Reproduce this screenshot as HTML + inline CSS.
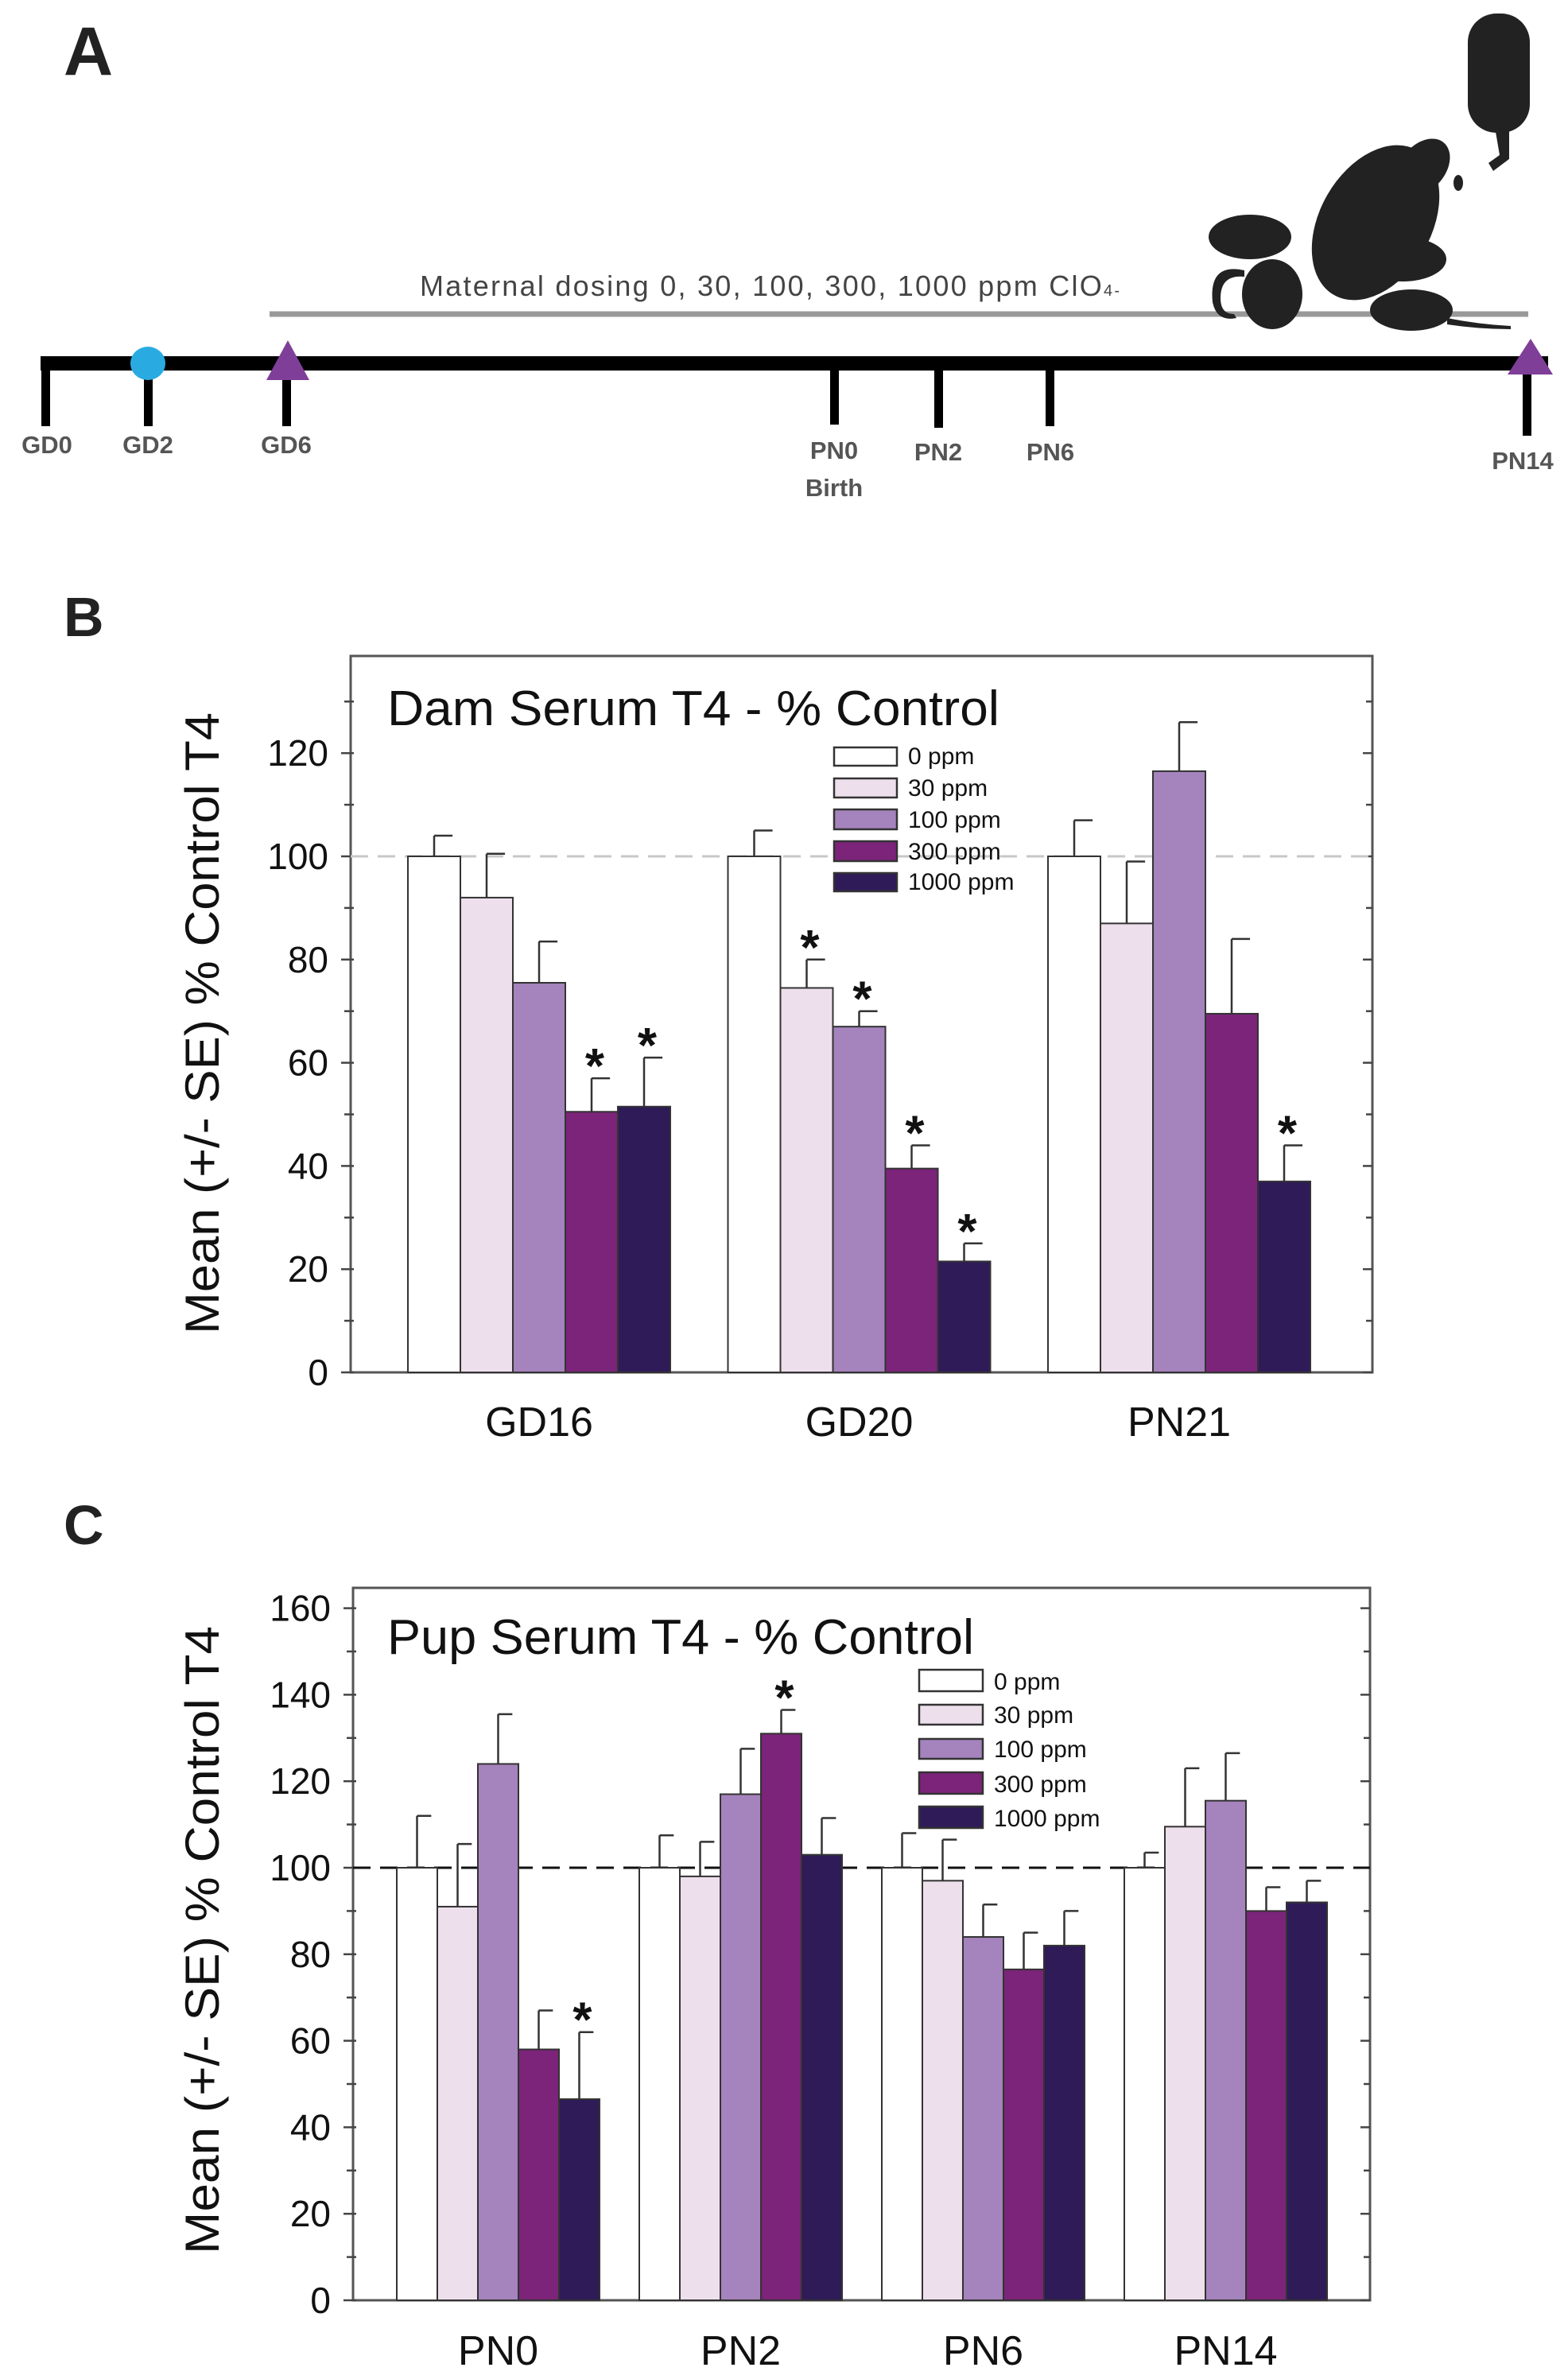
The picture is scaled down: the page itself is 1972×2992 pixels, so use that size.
<!DOCTYPE html>
<html><head><meta charset="utf-8"><style>
html,body{margin:0;padding:0;background:#fff;}
svg{display:block;}
text{font-family:"Liberation Sans",Arial,sans-serif;}
</style></head><body>
<svg id="s" width="1972" height="2992" viewBox="0 0 1972 2992" xmlns="http://www.w3.org/2000/svg">
<rect width="1972" height="2992" fill="#fff"/>
<text x="80" y="94" font-size="86" font-weight="bold" fill="#222">A</text>
<line x1="339" y1="395" x2="1922" y2="395" stroke="#999" stroke-width="7"/>
<text x="528" y="372" font-size="36" fill="#444" textLength="880">Maternal dosing 0, 30, 100, 300, 1000 ppm ClO<tspan font-size="20">4-</tspan></text>
<g fill="#222">
<rect x="1846" y="17" width="78" height="150" rx="36"/>
<path d="M1880 160 L1898 160 L1898 200 L1878 215 L1872 205 L1886 195 Z"/>
<ellipse cx="1834" cy="230" rx="6" ry="10"/>
<ellipse cx="1730" cy="280" rx="70" ry="105" transform="rotate(30 1730 280)"/>
<ellipse cx="1790" cy="210" rx="28" ry="40" transform="rotate(40 1790 210)"/>
<ellipse cx="1572" cy="298" rx="52" ry="28"/>
<ellipse cx="1764" cy="326" rx="55" ry="28"/>
<ellipse cx="1600" cy="370" rx="38" ry="44"/>
<ellipse cx="1775" cy="390" rx="52" ry="26"/>
<path d="M1820 400 Q1860 408 1900 410 L1900 414 Q1860 414 1820 408 Z"/>
<path d="M1565 340 Q1520 330 1525 380 Q1530 405 1555 400 L1552 395 Q1535 395 1535 375 Q1535 345 1565 348 Z"/>
</g>
<rect x="51" y="448" width="1896" height="18" fill="#000"/>
<g fill="#000">
<rect x="52" y="448" width="11" height="88"/>
<rect x="181" y="448" width="11" height="88"/>
<rect x="355" y="448" width="11" height="88"/>
<rect x="1044" y="448" width="11" height="86"/>
<rect x="1175" y="448" width="11" height="90"/>
<rect x="1315" y="448" width="11" height="88"/>
<rect x="1915" y="448" width="11" height="100"/>
</g>
<ellipse cx="186" cy="457" rx="22" ry="21" fill="#29abe2"/>
<polygon points="362,428 335,478 389,478" fill="#7f3f98"/>
<polygon points="1925,426 1896,471 1953,471" fill="#7f3f98"/>
<g font-size="31" font-weight="bold" fill="#555" text-anchor="middle">
<text x="59" y="570">GD0</text>
<text x="186" y="570">GD2</text>
<text x="360" y="570">GD6</text>
<text x="1049" y="577">PN0</text>
<text x="1049" y="624">Birth</text>
<text x="1180" y="579">PN2</text>
<text x="1321" y="579">PN6</text>
<text x="1915" y="590">PN14</text>
</g>
<text x="80" y="800" font-size="70" font-weight="bold" fill="#222">B</text>
<text x="80" y="1942" font-size="70" font-weight="bold" fill="#222">C</text>
<g id="B"></g>
<g id="C"></g>
</svg>
<script>
var NS="http://www.w3.org/2000/svg";
function el(p,tag,a,txt){var e=document.createElementNS(NS,tag);for(var k in a)e.setAttribute(k,a[k]);if(txt!==undefined)e.textContent=txt;p.appendChild(e);return e;}
var cols=["#ffffff","#ede0ec","#a583bd","#7b2479","#2f1b57"];
var names=["0 ppm","30 ppm","100 ppm","300 ppm","1000 ppm"];
function panel(g,o){
 var y=function(v){return o.y0-v*o.u;};
 el(g,"rect",{x:o.L,y:o.T,width:o.R-o.L,height:o.y0-o.T,fill:"none",stroke:"#555","stroke-width":3});
 for(var v=0;v<=o.max;v+=10){var yy=y(v);var maj=v%20==0;var l=maj?12:8;
  el(g,"line",{x1:o.L-l,y1:yy,x2:o.L+4,y2:yy,stroke:"#444","stroke-width":2.5});
  el(g,"line",{x1:o.R-l,y1:yy,x2:o.R,y2:yy,stroke:"#444","stroke-width":2.5});
  if(maj) el(g,"text",{x:o.L-28,y:yy+16,"font-size":46,"text-anchor":"end",fill:"#111"},String(v));}
 el(g,"line",{x1:o.L,y1:y(100),x2:o.R,y2:y(100),stroke:o.dash,"stroke-width":3,"stroke-dasharray":"22 12"});
 o.groups.forEach(function(gr,i){
  var x0=o.g0+i*o.gs;
  gr.forEach(function(d,j){var x=x0+j*o.bw;
   el(g,"rect",{x:x,y:y(d[0]),width:o.bw,height:d[0]*o.u,fill:cols[j],stroke:"#333","stroke-width":2});
   var cx=x+o.bw/2;
   el(g,"line",{x1:cx,y1:y(d[0]),x2:cx,y2:y(d[1]),stroke:"#333","stroke-width":2.5});
   el(g,"line",{x1:cx,y1:y(d[1]),x2:cx+o.bw*0.35,y2:y(d[1]),stroke:"#333","stroke-width":2.5});
   if(d[2]) el(g,"text",{x:cx+4,y:y(d[1])+6,"font-size":62,"font-weight":"bold","text-anchor":"middle",fill:"#111"},"*");
  });
  el(g,"text",{x:x0+o.bw*2.5,y:o.xl,"font-size":52,"text-anchor":"middle",fill:"#111"},o.labels[i]);
 });
 o.leg.forEach(function(r,j){
  el(g,"rect",{x:o.lx,y:r[0],width:o.lw,height:r[1]-r[0],fill:cols[j],stroke:"#333","stroke-width":2.5});
  el(g,"text",{x:o.lx+o.lw+14,y:r[1]-2,"font-size":30,fill:"#111"},names[j]);
 });
 el(g,"text",{x:487,y:o.ty,"font-size":62,fill:"#111",textLength:o.tw,lengthAdjust:"spacingAndGlyphs"},o.title);
 el(g,"text",{x:0,y:0,"font-size":60,fill:"#111","text-anchor":"middle",transform:"translate("+o.yl[0]+","+o.yl[1]+") rotate(-90)",textLength:o.yl[2],lengthAdjust:"spacingAndGlyphs"},"Mean (+/- SE) % Control T4");
}
panel(document.getElementById("B"),{L:441,R:1726,T:825,y0:1726,u:6.49,max:130,dash:"#c8c8c8",
 g0:513,gs:402.5,bw:66,xl:1806,labels:["GD16","GD20","PN21"],
 groups:[[[100,104],[92,100.5],[75.5,83.5],[50.5,57,1],[51.5,61,1]],
         [[100,105],[74.5,80,1],[67,70,1],[39.5,44,1],[21.5,25,1]],
         [[100,107],[87,99],[116.5,126],[69.5,84],[37,44,1]]],
 lx:1049,lw:79,leg:[[940,963],[979,1003],[1018,1043],[1058,1083],[1098,1121]],
 title:"Dam Serum T4 - % Control",ty:912,tw:770,yl:[275,1287,782]});
panel(document.getElementById("C"),{L:444,R:1723,T:1997,y0:2893,u:5.44,max:160,dash:"#111",
 g0:499,gs:305,bw:51,xl:2974,labels:["PN0","PN2","PN6","PN14"],
 groups:[[[100,112],[91,105.5],[124,135.5],[58,67],[46.5,62,1]],
         [[100,107.5],[98,106],[117,127.5],[131,136.5,1],[103,111.5]],
         [[100,108],[97,106.5],[84,91.5],[76.5,85],[82,90]],
         [[100,103.5],[109.5,123],[115.5,126.5],[90,95.5],[92,97]]],
 lx:1156,lw:80,leg:[[2100,2127],[2144,2169],[2187,2212],[2229,2256],[2272,2299]],
 title:"Pup Serum T4 - % Control",ty:2080,tw:738,yl:[275,2440,790]});
</script>
</body></html>
